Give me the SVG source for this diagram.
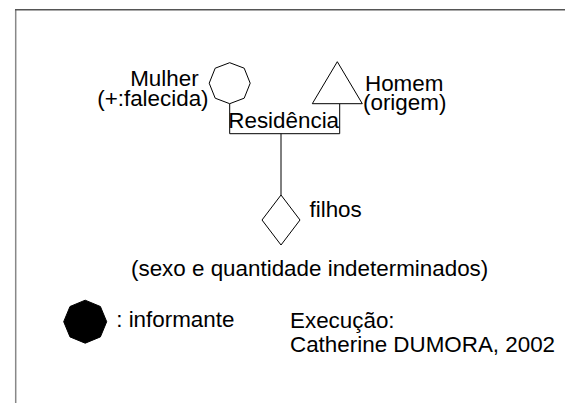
<svg xmlns="http://www.w3.org/2000/svg" width="565" height="403" viewBox="0 0 565 403">
<style>
.t{font-family:"Liberation Sans",Arial,sans-serif;font-size:22.4px;fill:#000}
.s{fill:#fff;stroke:#000;stroke-width:1}
.c{fill:none;stroke:#000;stroke-width:1}
</style>
<rect width="565" height="403" fill="#fff"/>
<g id="frame">
<line x1="15.7" y1="9.5" x2="15.7" y2="403" stroke="#888" stroke-width="1.5"/>
<line x1="15" y1="9.8" x2="565" y2="9.8" stroke="#555" stroke-width="1.5"/>
</g>
<g id="connectors">
<path class="c" d="M229.7,103.7 V133.7 H339.7 V103.7"/>
<path class="c" d="M281,133.7 V195"/>
</g>
<g id="mulher">
<polygon class="s" points="229.7,62.7 244.2,68.2 250.2,83.2 244.2,98.2 229.7,103.7 215.2,98.2 209.2,83.2 215.2,68.2"/>
<text class="t" x="130.2" y="86.3">Mulher</text>
<text class="t" x="97.2" y="106.2">(+:falecida)</text>
</g>
<g id="homem">
<polygon class="s" points="337.3,61.7 362.3,103.7 312.3,103.7"/>
<text class="t" x="365" y="90.8">Homem</text>
<text class="t" x="363" y="110.3">(origem)</text>
</g>
<g id="residencia">
<text class="t" x="228.3" y="128.3">Residência</text>
</g>
<g id="filhos">
<polygon class="s" points="281,195 300,220 281,245 262,220"/>
<text class="t" x="309.5" y="216.7">filhos</text>
<text class="t" x="131" y="276">(sexo e quantidade indeterminados)</text>
</g>
<g id="informante">
<polygon fill="#000" stroke="#000" points="85.2,300.2 100.4,306.5 106.7,321.7 100.4,336.9 85.2,343.2 70,336.9 63.7,321.7 70,306.5"/>
<text class="t" x="116.2" y="327.3">: informante</text>
</g>
<g id="credit">
<text class="t" x="290" y="328.3">Execução:</text>
<text class="t" x="290" y="351.7">Catherine DUMORA, 2002</text>
</g>
</svg>
